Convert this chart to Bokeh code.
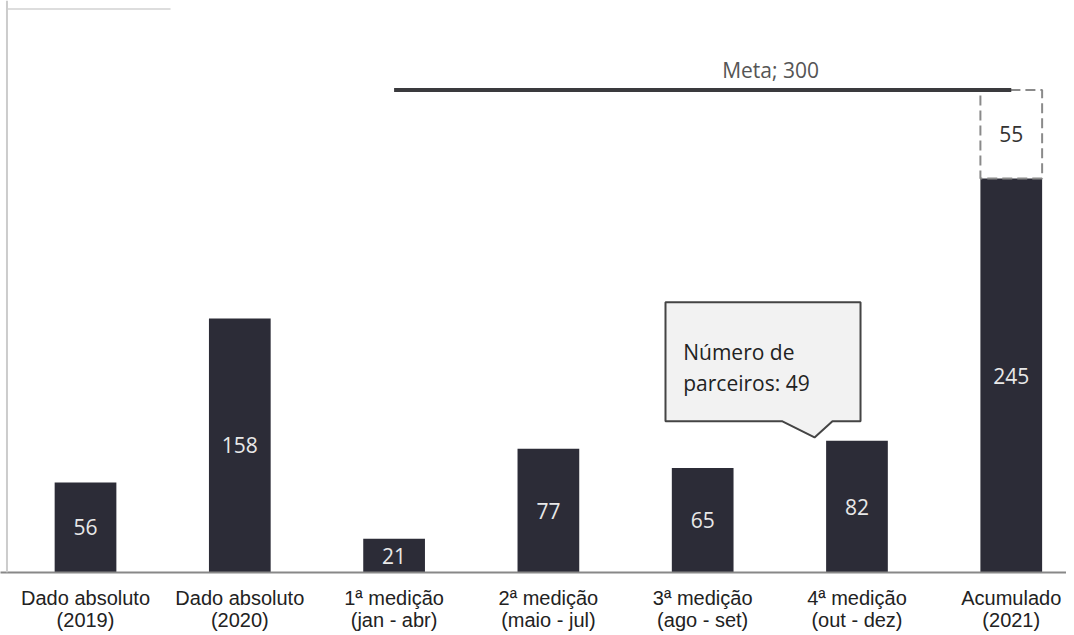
from bokeh.plotting import figure
from bokeh.models import ColumnDataSource, Range1d, FixedTicker, Span, Label
from bokeh.core.properties import value
from bokeh.embed import file_html
from bokeh.resources import INLINE

categories = ["Dado absoluto\n(2019)", "Dado absoluto\n(2020)", "1ª medição\n(jan - abr)",
              "2ª medição\n(maio - jul)", "3ª medição\n(ago - set)", "4ª medição\n(out - dez)",
              "Acumulado\n(2021)"]
values = [56, 158, 21, 77, 65, 82, 245]
meta = 300
remaining = meta - values[-1]   # 55
callout_text = "Número de\nparceiros: 49"
callout_index = 5

xs = list(range(len(categories)))
BAR = "#2c2c37"
W = 0.4

p = figure(width=1066, height=635, output_backend="svg", toolbar_location=None,
           x_range=Range1d(-0.551, 6.358), y_range=Range1d(0, 355.7),
           min_border_left=0, min_border_right=0, min_border_top=0, min_border_bottom=63)
p.outline_line_color = None
p.grid.visible = False
p.yaxis.visible = False
p.background_fill_color = "white"

src = ColumnDataSource(dict(x=xs, top=values, mid=[v / 2 for v in values],
                            lab=[str(v) for v in values]))
p.vbar(x="x", top="top", width=W, source=src, fill_color=BAR, line_color=None)
p.text(x="x", y="mid", text="lab", source=src, text_align="center", text_baseline="middle",
       text_color="#e8e8e8", text_font=value("Open Sans"), text_font_size="21px")

# dashed remainder box to reach the target
last = xs[-1]
p.quad(left=[last - W / 2], right=[last + W / 2], bottom=[values[-1]], top=[meta],
       fill_color=None, line_color="#8a8a8a", line_width=2, line_dash="10 5")
p.text(x=[last], y=[(values[-1] + meta) / 2], text=[str(remaining)], text_align="center",
       text_baseline="middle", text_color="#333333", text_font=value("Open Sans"),
       text_font_size="21px")

# meta line
p.line(x=[xs[2], last], y=[meta, meta], line_color="#3a3a3d", line_width=4)
p.add_layout(Label(x=4.44, y=meta, y_offset=6, text="Meta; 300", text_align="center",
                   text_baseline="bottom", text_color="#555555",
                   text_font="Open Sans", text_font_size="21px"))

# callout
cx = xs[callout_index]
cv = values[callout_index]
x0, x1 = cx - 1.241, cx + 0.023
ytop, ybot = cv + 86, cv + 12
tip = (cx - 0.275, cv + 2)
pb_l, pb_r = cx - 0.483, cx - 0.159
p.patch(x=[x0, x1, x1, pb_r, tip[0], pb_l, x0],
        y=[ytop, ytop, ybot, ybot, tip[1], ybot, ybot],
        fill_color="#f2f2f2", line_color="#444444", line_width=2)
p.text(x=[x0 + 0.115], y=[ytop - 22], text=[callout_text], text_align="left",
       text_baseline="top", text_color="#222222", text_font=value("Open Sans"),
       text_font_size="21px", text_line_height=1.12)

# frame decorations
p.add_layout(Span(location=-0.509, dimension="height", line_color="#cccccc", line_width=2))
p.line(x=[-0.509, 0.551], y=[350.4, 350.4], line_color="#dddddd", line_width=2)

p.xaxis.ticker = FixedTicker(ticks=xs)
p.xaxis.major_label_overrides = {i: c for i, c in zip(xs, categories)}
p.xaxis.major_tick_line_color = None
p.xaxis.minor_tick_line_color = None
p.xaxis.axis_line_color = "#888888"
p.xaxis.axis_line_width = 2
p.xaxis.major_label_standoff = 8
p.xaxis.major_label_text_font = "Liberation Sans"
p.xaxis.major_label_text_font_size = "20px"
p.xaxis.major_label_text_line_height = 1.0
p.xaxis.major_label_text_color = "#222222"

open("out.html", "w").write(file_html(p, INLINE))
